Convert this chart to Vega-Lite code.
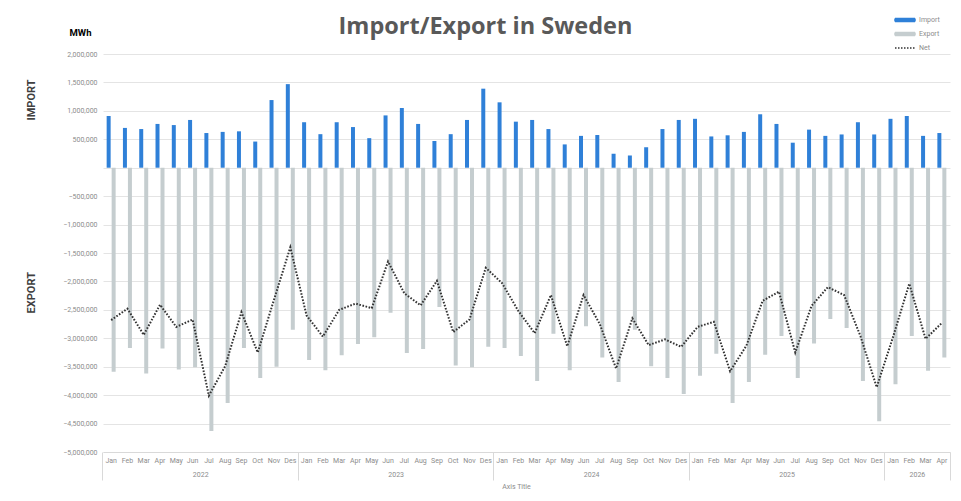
{
  "$schema": "https://vega.github.io/schema/vega-lite/v6.json",
  "width": 847,
  "height": 398,
  "autosize": {"type": "none"},
  "padding": {"left": 103, "top": 54, "right": 11, "bottom": 49},
  "background": "white",
  "config": {"view": {"stroke": null}, "font": "Roboto"},
  "title": {"text": "Import/Export in Sweden", "fontSize": 23.5, "font": "Open Sans", "fontWeight": "bold", "color": "#595959", "anchor": "middle", "frame": "group", "dx": -41, "offset": 0, "baseline": "alphabetic", "dy": 43},
  "data": {"values": [
    {"m": "2022-01", "Import": 910000, "Export": -3590000, "Net": -2680000},
    {"m": "2022-02", "Import": 700000, "Export": -3170000, "Net": -2480000},
    {"m": "2022-03", "Import": 680000, "Export": -3620000, "Net": -2940000},
    {"m": "2022-04", "Import": 770000, "Export": -3180000, "Net": -2410000},
    {"m": "2022-05", "Import": 750000, "Export": -3550000, "Net": -2800000},
    {"m": "2022-06", "Import": 840000, "Export": -3510000, "Net": -2670000},
    {"m": "2022-07", "Import": 610000, "Export": -4630000, "Net": -4010000},
    {"m": "2022-08", "Import": 630000, "Export": -4140000, "Net": -3490000},
    {"m": "2022-09", "Import": 640000, "Export": -3170000, "Net": -2540000},
    {"m": "2022-10", "Import": 460000, "Export": -3700000, "Net": -3250000},
    {"m": "2022-11", "Import": 1190000, "Export": -3500000, "Net": -2320000},
    {"m": "2022-12", "Import": 1470000, "Export": -2850000, "Net": -1400000},
    {"m": "2023-01", "Import": 800000, "Export": -3380000, "Net": -2600000},
    {"m": "2023-02", "Import": 590000, "Export": -3560000, "Net": -2970000},
    {"m": "2023-03", "Import": 800000, "Export": -3300000, "Net": -2500000},
    {"m": "2023-04", "Import": 715000, "Export": -3100000, "Net": -2390000},
    {"m": "2023-05", "Import": 520000, "Export": -2980000, "Net": -2470000},
    {"m": "2023-06", "Import": 920000, "Export": -2550000, "Net": -1650000},
    {"m": "2023-07", "Import": 1050000, "Export": -3260000, "Net": -2210000},
    {"m": "2023-08", "Import": 770000, "Export": -3190000, "Net": -2420000},
    {"m": "2023-09", "Import": 470000, "Export": -2450000, "Net": -1990000},
    {"m": "2023-10", "Import": 590000, "Export": -3480000, "Net": -2890000},
    {"m": "2023-11", "Import": 840000, "Export": -3510000, "Net": -2670000},
    {"m": "2023-12", "Import": 1390000, "Export": -3150000, "Net": -1760000},
    {"m": "2024-01", "Import": 1150000, "Export": -3170000, "Net": -2030000},
    {"m": "2024-02", "Import": 810000, "Export": -3310000, "Net": -2520000},
    {"m": "2024-03", "Import": 840000, "Export": -3750000, "Net": -2910000},
    {"m": "2024-04", "Import": 680000, "Export": -2920000, "Net": -2240000},
    {"m": "2024-05", "Import": 410000, "Export": -3560000, "Net": -3140000},
    {"m": "2024-06", "Import": 560000, "Export": -2790000, "Net": -2240000},
    {"m": "2024-07", "Import": 575000, "Export": -3340000, "Net": -2750000},
    {"m": "2024-08", "Import": 245000, "Export": -3770000, "Net": -3530000},
    {"m": "2024-09", "Import": 215000, "Export": -2850000, "Net": -2650000},
    {"m": "2024-10", "Import": 360000, "Export": -3490000, "Net": -3120000},
    {"m": "2024-11", "Import": 680000, "Export": -3700000, "Net": -3020000},
    {"m": "2024-12", "Import": 840000, "Export": -3980000, "Net": -3150000},
    {"m": "2025-01", "Import": 860000, "Export": -3660000, "Net": -2800000},
    {"m": "2025-02", "Import": 550000, "Export": -3270000, "Net": -2710000},
    {"m": "2025-03", "Import": 570000, "Export": -4140000, "Net": -3580000},
    {"m": "2025-04", "Import": 630000, "Export": -3770000, "Net": -3130000},
    {"m": "2025-05", "Import": 940000, "Export": -3290000, "Net": -2340000},
    {"m": "2025-06", "Import": 770000, "Export": -2960000, "Net": -2180000},
    {"m": "2025-07", "Import": 440000, "Export": -3700000, "Net": -3250000},
    {"m": "2025-08", "Import": 670000, "Export": -3090000, "Net": -2430000},
    {"m": "2025-09", "Import": 560000, "Export": -2660000, "Net": -2100000},
    {"m": "2025-10", "Import": 585000, "Export": -2820000, "Net": -2240000},
    {"m": "2025-11", "Import": 800000, "Export": -3750000, "Net": -2960000},
    {"m": "2025-12", "Import": 585000, "Export": -4460000, "Net": -3860000},
    {"m": "2026-01", "Import": 860000, "Export": -3810000, "Net": -2980000},
    {"m": "2026-02", "Import": 910000, "Export": -2960000, "Net": -2040000},
    {"m": "2026-03", "Import": 560000, "Export": -3570000, "Net": -3010000},
    {"m": "2026-04", "Import": 610000, "Export": -3340000, "Net": -2730000}
  ]},
  "layer": [
    {
      "transform": [{"fold": ["Import", "Export"], "as": ["series", "value"]}],
      "mark": {"type": "bar"},
      "encoding": {
        "x": {
          "field": "m", "type": "ordinal",
          "scale": {"paddingInner": 0, "paddingOuter": 0},
          "axis": {
            "orient": "bottom", "title": "Axis Title", "bandPosition": 0,
            "labelExpr": "['Jan','Feb','Mar','Apr','May','Jun','Jul','Aug','Sep','Oct','Nov','Des'][toNumber(slice(datum.value,5))-1]",
            "labelAngle": 0, "labelFontSize": 7, "labelColor": "#8c8c8c", "labelPadding": -24, "labelOverlap": false, "labelBaseline": "top",
            "ticks": true, "tickSize": 28, "tickColor": "#d9d9d9",
            "tickOpacity": {"condition": {"test": "slice(datum.value,5) === '01'", "value": 1}, "value": 0},
            "domainColor": "#d9d9d9", "grid": false,
            "titleFontSize": 7, "titleFontWeight": "normal", "titleColor": "#8c8c8c", "titleX": 413, "titleY": 34, "titleBaseline": "middle"
          }
        },
        "xOffset": {"field": "series", "scale": {"domain": ["Import", "Export"], "paddingInner": 0.2, "paddingOuter": 0.73}},
        "y": {
          "field": "value", "type": "quantitative",
          "scale": {"domain": [-5000000, 2000000], "nice": false},
          "axis": {
            "orient": "left",
            "values": [-5000000, -4500000, -4000000, -3500000, -3000000, -2500000, -2000000, -1500000, -1000000, -500000, 0, 500000, 1000000, 1500000, 2000000],
            "labelExpr": "datum.value === 0 ? '' : format(datum.value, ',')",
            "labelFontSize": 7, "labelColor": "#8c8c8c", "ticks": false, "domain": false, "labelPadding": 6,
            "gridColor": "#e4e4e4", "gridWidth": 1,
            "title": "MWh", "titleAngle": 0, "titleX": -23, "titleY": -22, "titleAlign": "center", "titleBaseline": "middle",
            "titleFontSize": 9.5, "titleFontWeight": "bold", "titleColor": "#000000"
          }
        },
        "color": {
          "field": "series", "type": "nominal",
          "scale": {"domain": ["Import", "Export", "Net"], "range": ["#2F80D8", "#C5CDCF", "#333333"]},
          "legend": {
            "orient": "none", "legendX": 796, "legendY": -40, "title": null, "padding": 0,
            "labelFontSize": 7, "labelColor": "#8c8c8c", "symbolSize": 100,
            "symbolType": "M-2,-0.3H2V0.3H-2Z", "labelOffset": 8, "rowPadding": 3,
            "encode": {
              "labels": {"update": {"fill": {"value": "#8c8c8c"}}},
              "symbols": {"update": {
                "shape": {"signal": "datum.value === 'Net' ? 'M-2,0H2' : 'M-2,-0.3H2V0.3H-2Z'"},
                "fill": {"signal": "datum.value === 'Import' ? '#2F80D8' : (datum.value === 'Export' ? '#C5CDCF' : 'transparent')"},
                "stroke": {"signal": "datum.value === 'Net' ? '#333333' : 'transparent'"},
                "strokeDash": {"signal": "datum.value === 'Net' ? [1.5, 1.5] : [1, 0]"},
                "strokeWidth": {"value": 1.5},
                "opacity": {"value": 1}
              }}
            }
          }
        }
      }
    },
    {
      "mark": {"type": "line", "strokeDash": [1.6, 1.6], "strokeWidth": 2},
      "encoding": {
        "x": {
          "field": "m", "type": "ordinal",
          "axis": {
            "orient": "bottom", "title": null, "bandPosition": 1, "labelOffset": 8.14,
            "values": ["2022-06", "2023-06", "2024-06", "2025-06", "2026-02", "2026-04"],
            "labelExpr": "datum.value === '2026-04' ? '' : slice(datum.value, 0, 4)",
            "labelAngle": 0, "labelFontSize": 7, "labelColor": "#8c8c8c", "labelPadding": -10, "labelBaseline": "top", "labelOverlap": false,
            "tickSize": 28, "tickColor": "#d9d9d9",
            "tickOpacity": {"condition": {"test": "datum.value === '2026-04'", "value": 1}, "value": 0},
            "domain": false, "grid": false
          }
        },
        "y": {
          "field": "Net", "type": "quantitative",
          "axis": {
            "orient": "left", "values": [1200000, -2190000],
            "labelExpr": "datum.value > 0 ? 'IMPORT' : 'EXPORT'",
            "labelAngle": 270, "labelAlign": "center", "labelBaseline": "bottom", "labelPadding": 67,
            "ticks": false, "domain": false, "grid": false,
            "labelFontSize": 11, "labelFontWeight": "bold", "labelColor": "#404040", "title": null
          }
        },
        "color": {"datum": "Net", "type": "nominal"}
      }
    }
  ],
  "resolve": {"axis": {"x": "independent", "y": "independent"}}
}
